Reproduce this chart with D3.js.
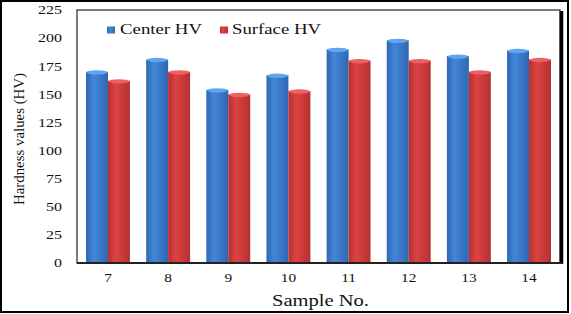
<!DOCTYPE html>
<html><head><meta charset="utf-8">
<script src="https://cdn.jsdelivr.net/npm/d3@7"></script>
<style>body{margin:0;background:#fff}svg{display:block}text{font-family:"Liberation Serif","Times New Roman",serif;fill:#111}</style>
</head><body><svg id="c" width="571" height="314"></svg>
<script>
const categories = ["7","8","9","10","11","12","13","14"];
const centerHV = [170,181,154,167,190,198,184,189];
const surfaceHV = [162,170,150,153,180,180,170,181];
const seriesNames = ["Center HV","Surface HV"];
const yTicks = [0,25,50,75,100,125,150,175,200,225];

const svg = d3.select("#c");
const W=571,H=314;
const L=77,R=560,T=10,B=263;

// outer frame
svg.append("rect").attr("x",1).attr("y",1).attr("width",567).attr("height",311)
  .attr("fill","#fff").attr("stroke","#000").attr("stroke-width",2);

// gradients
const defs = svg.append("defs");
function grad(id, edge, mid){
  const g = defs.append("linearGradient").attr("id",id).attr("x1","0").attr("x2","1").attr("y1","0").attr("y2","0");
  g.append("stop").attr("offset","0%").attr("stop-color",edge);
  g.append("stop").attr("offset","35%").attr("stop-color",mid);
  g.append("stop").attr("offset","100%").attr("stop-color",edge);
}
grad("gb","#2f66b3","#4387d6");
grad("gr","#b53030","#dc4343");
const colors = {"Center HV":"url(#gb)","Surface HV":"url(#gr)"};
const capColors = {"Center HV":"#5ea6f2","Surface HV":"#ec6262"};

// plot box
svg.append("rect").attr("x",L).attr("y",T).attr("width",R-L).attr("height",B-T)
  .attr("fill","#fff").attr("stroke","#333").attr("stroke-width",1.3);
svg.append("line").attr("x1",R+1.5).attr("x2",R+1.5).attr("y1",T+1).attr("y2",B+1)
  .attr("stroke","#000").attr("stroke-width",3.5);

const x = d3.scaleBand().domain(categories).range([L,R]).paddingInner(0.27).paddingOuter(0.15);
const xs = d3.scaleBand().domain(seriesNames).range([0,x.bandwidth()]);
const y = d3.scaleLinear().domain([0,225]).range([B,T]);

const data = categories.map((c,i)=>({cat:c, vals:[{s:"Center HV",v:centerHV[i]},{s:"Surface HV",v:surfaceHV[i]}]}));

const g = svg.append("g").selectAll("g").data(data).join("g")
  .attr("transform",d=>`translate(${x(d.cat)},0)`);
g.selectAll("rect").data(d=>d.vals).join("rect")
  .attr("x",d=>xs(d.s)).attr("y",d=>y(d.v)).attr("width",xs.bandwidth()).attr("height",d=>B-y(d.v))
  .attr("fill",d=>colors[d.s]);
g.selectAll("ellipse").data(d=>d.vals).join("ellipse")
  .attr("cx",d=>xs(d.s)+xs.bandwidth()/2).attr("cy",d=>y(d.v)+0.5)
  .attr("rx",xs.bandwidth()/2-0.5).attr("ry",2.2)
  .attr("fill",d=>capColors[d.s]);

// bottom axis line
svg.append("line").attr("x1",L).attr("x2",R+3).attr("y1",B).attr("y2",B).attr("stroke","#222").attr("stroke-width",2);

function stretch(sel,k){
  sel.each(function(){
    const w = this.getComputedTextLength();
    d3.select(this).attr("textLength",w*k).attr("lengthAdjust","spacingAndGlyphs");
  });
}

// y axis
const ya = svg.append("g").attr("transform",`translate(${L},0)`)
  .call(d3.axisLeft(y).tickValues(yTicks).tickSize(0).tickPadding(15));
ya.select(".domain").remove();
ya.selectAll("text").attr("font-size",12).attr("font-family","Liberation Serif").attr("fill","#111");
stretch(ya.selectAll("text"),1.33);

// x axis
const xa = svg.append("g").attr("transform",`translate(0,${B})`)
  .call(d3.axisBottom(x).tickSize(0).tickPadding(10));
xa.select(".domain").remove();
xa.selectAll("text").attr("font-size",12).attr("font-family","Liberation Serif").attr("fill","#111");
stretch(xa.selectAll("text"),1.28);

// titles
const xt = svg.append("text").attr("x",(L+R)/2+2).attr("y",306).attr("text-anchor","middle")
  .attr("font-size",17).text("Sample No.");
xt.attr("textLength",97).attr("lengthAdjust","spacingAndGlyphs");
const yt = svg.append("text").attr("transform",`translate(24,139) rotate(-90)`).attr("text-anchor","middle")
  .attr("font-size",15).text("Hardness values (HV)");
yt.attr("textLength",132).attr("lengthAdjust","spacingAndGlyphs");

// legend
const legX = [107,220], legTX=[120,232], legW=[82,89];
seriesNames.forEach((s,i)=>{
  svg.append("rect").attr("x",legX[i]).attr("y",26.5).attr("width",8).attr("height",7).attr("fill",colors[s]);
  svg.append("text").attr("x",legTX[i]).attr("y",34).attr("font-size",14.5).text(s)
    .attr("textLength",legW[i]).attr("lengthAdjust","spacingAndGlyphs");
});
</script></body></html>
